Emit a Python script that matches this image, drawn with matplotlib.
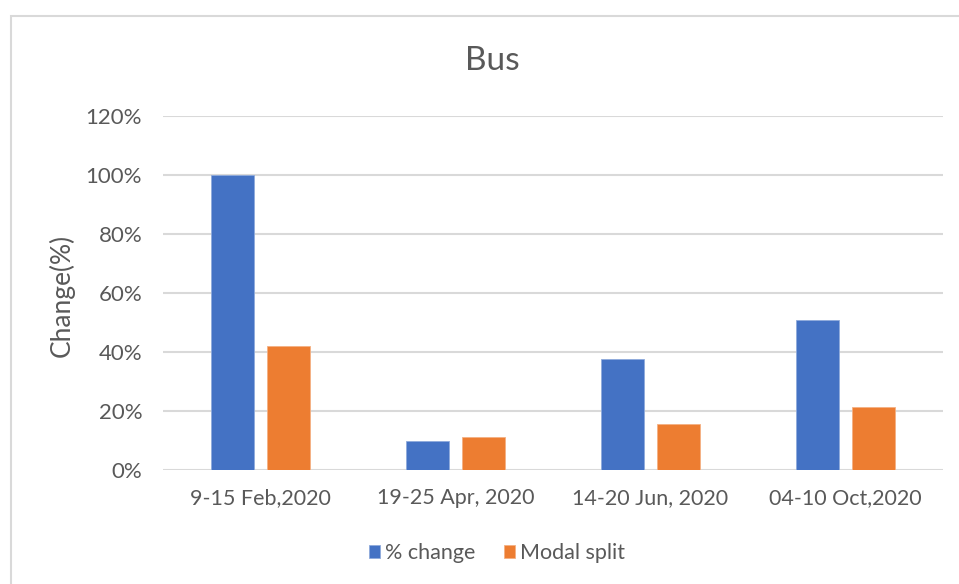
import matplotlib
matplotlib.use("Agg")
import matplotlib.pyplot as plt
import numpy as np
from matplotlib.patches import Rectangle
from matplotlib.ticker import PercentFormatter

plt.rcParams['font.family'] = ['Lato', 'DejaVu Sans']

periods = ['9-15 Feb,2020', '19-25 Apr, 2020', '14-20 Jun, 2020', '04-10 Oct,2020']
pct_change = [1.00, 0.099, 0.375, 0.507]
modal_split = [0.421, 0.112, 0.157, 0.213]

blue = '#4472C4'
orange = '#ED7D31'
txt = '#595959'
grid = '#D9D9D9'

W, H = 959, 584
fig = plt.figure(figsize=(W / 100, H / 100), dpi=100)
fig.patch.set_facecolor('white')

# light frame around the chart area (runs off the right and bottom)
fig.patches.append(Rectangle((11 / W, -0.1), 1.2, 1 - 16 / H + 0.1,
                             transform=fig.transFigure, fill=False,
                             edgecolor=grid, linewidth=1.5))

ax = fig.add_axes([163 / W, 1 - 470 / H, 780 / W, 354 / H])

x = np.arange(len(periods))
bw = 0.223
off = 0.143
ax.bar(x - off, pct_change, bw, color=blue, edgecolor='#8FAADC', linewidth=0.6,
       label='% change', zorder=3)
ax.bar(x + off, modal_split, bw, color=orange, edgecolor='#F4B183', linewidth=0.6,
       label='Modal split', zorder=3)

ax.set_xlim(-0.5, len(periods) - 0.5)
ax.set_ylim(0, 1.2)
ax.set_yticks(np.arange(0, 1.21, 0.2))
ax.yaxis.set_major_formatter(PercentFormatter(1.0, decimals=0))
ax.set_xticks(x)
ax.set_xticklabels(periods)

ax.grid(axis='y', color=grid, linewidth=1.5, zorder=0)
for s in ax.spines.values():
    s.set_visible(False)
ax.tick_params(length=0, colors=txt)
ax.tick_params(axis='x', pad=13, labelsize=15.5)
ax.tick_params(axis='y', pad=15, labelsize=16)

fig.text(62 / W, 1 - 295 / H, 'Change(%)', rotation=90, fontsize=19,
         color=txt, ha='center', va='center')
fig.text(492 / W, 1 - 61 / H, 'Bus', fontsize=24, color=txt,
         ha='center', va='center')

leg = fig.legend(loc='center', bbox_to_anchor=(497 / W, 1 - 553 / H), ncol=2,
                 frameon=False, fontsize=15.5, handlelength=0.52, handleheight=0.52,
                 handletextpad=0.25, columnspacing=1.3)
for t in leg.get_texts():
    t.set_color(txt)

fig.savefig('out.png', dpi=100)
